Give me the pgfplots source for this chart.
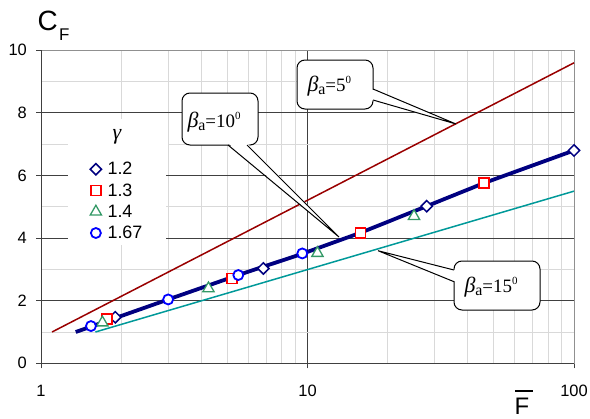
\documentclass[border=0pt]{standalone}
\usepackage{fontspec}
\setmainfont{Liberation Serif}
\setsansfont{Liberation Sans}
\usepackage{pgfplots}
\pgfplotsset{compat=1.18}

\definecolor{lineRed}{RGB}{153,0,0}
\definecolor{lineTeal}{RGB}{0,153,153}
\definecolor{lineNavy}{RGB}{0,0,128}
\definecolor{mkRed}{RGB}{255,0,0}
\definecolor{mkGreen}{RGB}{51,153,102}
\definecolor{mkBlue}{RGB}{0,0,255}
\definecolor{gridMajor}{RGB}{64,64,64}
\definecolor{gridMinor}{RGB}{217,217,217}
\definecolor{frameGray}{RGB}{144,144,144}

% label of a callout: beta_a = <angle>^0
\newcommand{\betaa}[1]{{\fontsize{22}{22}\selectfont\itshape β}%
  \raisebox{-3bp}{\fontsize{16}{16}\selectfont a}%
  {\fontsize{19}{19}\selectfont =#1}%
  \raisebox{8bp}{\fontsize{11}{11}\selectfont 0}}

\begin{document}
\begin{tikzpicture}
\useasboundingbox (0,0) rectangle (590bp,-419bp);

\begin{axis}[
  at={(41bp,-363.3bp)}, anchor=south west,
  scale only axis, width=533bp, height=313bp,
  xmode=log, xmin=1, xmax=100, ymin=0, ymax=10,
  xtick={1,10,100}, xticklabels={1,10,100},
  ytick={0,2,4,6,8,10}, yticklabels={0,2,4,6,8,10},
  minor ytick={1,3,5,7,9},
  minor xtick={2,3,4,5,6,7,8,9,20,30,40,50,60,70,80,90},
  grid=both,
  major grid style={gridMajor, line width=1bp},
  minor grid style={gridMinor, line width=1bp},
  tick pos=left, tick align=outside,
  major tick length=5bp, minor tick length=0pt,
  tick style={gridMajor, line width=1bp},
  axis line style={frameGray, line width=1bp},
  xticklabel style={font=\sffamily\fontsize{16.5}{16.5}\selectfont, anchor=north, inner sep=0pt, yshift=-17bp},
  yticklabel style={font=\sffamily\fontsize{16.5}{16.5}\selectfont, anchor=east, inner sep=0pt, xshift=-9bp},
  clip=false,
  legend style={at={(0.0507,0.659)}, anchor=north west, draw=none, fill=white,
    font=\sffamily\fontsize{18}{18}\selectfont,
    inner xsep=22bp, inner ysep=3bp, row sep=3.3bp,
    nodes={inner sep=2bp},
    /tikz/every odd column/.append style={column sep=4bp}},
  legend cell align=left,
]
% reference lines for the three cone angles
\addplot[lineRed, line width=1.5bp, forget plot] coordinates {(1.1,1.0) (100,9.6)};
\addplot[lineTeal, line width=1.5bp, forget plot] coordinates {(1.6,1.0) (100,5.5)};
% beta_a = 10 deg curve
\addplot[lineNavy, line width=3.8bp, forget plot] coordinates {
  (1.35,1.0) (3.0,2.04) (5.5,2.82) (9.56,3.50) (15.8,4.17) (28,5.02) (46,5.76) (100,6.8)};

\addplot[lineNavy, only marks, mark=square*, mark size=4bp,
  mark options={fill=white, line width=1.5bp, rotate=45}]
  coordinates {(1.90,1.47) (6.83,3.03) (28,5.02) (100,6.8)};
\addlegendentry{1.2}
\addplot[mkRed, only marks, mark=square*, mark size=5bp,
  mark options={fill=white, line width=1.6bp}]
  coordinates {(1.77,1.41) (5.2,2.71) (15.8,4.17) (46,5.76)};
\addlegendentry{1.3}
\addplot[mkGreen, only marks, mark=triangle*, mark size=6.5bp,
  mark options={fill=white, line width=1.3bp}]
  coordinates {(1.70,1.30) (4.25,2.39) (10.9,3.52) (25.1,4.70)};
\addlegendentry{1.4}
\addplot[mkBlue, only marks, mark=*, mark size=5bp,
  mark options={fill=white, line width=1.8bp}]
  coordinates {(1.54,1.19) (3.0,2.04) (5.5,2.82) (9.56,3.51)};
\addlegendentry{1.67}

% darker left and bottom axis lines
\draw[gridMajor, line width=1bp] (rel axis cs:0,1) -- (rel axis cs:0,0) -- (rel axis cs:1,0);
\end{axis}

\begin{scope}[x=1bp, y=-1bp, line width=1bp]
  % legend heading (gamma)
  \fill[white] (68,119) rectangle (168,158);
  \node[inner sep=0pt, font=\rmfamily\itshape\fontsize{22}{22}\selectfont] at (117,137) {γ};

  % callouts
  % beta_a = 10
  \draw[fill=white, rounded corners=8bp] (182,93) rectangle (258,145);
  \fill[white] (228,143) -- (339,237) -- (247,143) -- cycle;
  \draw (228,145) -- (339,237) -- (247,145);
  \node[anchor=base west, inner sep=0pt] at (187,127.3) {\betaa{10}};
  % beta_a = 5
  \draw[fill=white, rounded corners=8bp] (297,60) rectangle (373,109);
  \fill[white] (371,89) -- (456,124) -- (371,100) -- cycle;
  \draw (373,89) -- (456,124) -- (373,100);
  \node[anchor=base west, inner sep=0pt] at (307,91.7) {\betaa{5}};
  % beta_a = 15
  \draw[fill=white, rounded corners=8bp] (454,261) rectangle (540,310);
  \fill[white] (456,270) -- (378,250.7) -- (456,281.7) -- cycle;
  \draw (454,270) -- (378,250.7) -- (454,281.7);
  \node[anchor=base west, inner sep=0pt] at (464,292) {\betaa{15}};

  % axis titles
  \node[anchor=base west, inner sep=0pt, font=\sffamily\fontsize{28}{28}\selectfont] at (37,30.7) {C};
  \node[anchor=base west, inner sep=0pt, font=\sffamily\fontsize{17}{17}\selectfont] at (58.5,40.7) {F};
  \node[anchor=base west, inner sep=0pt, font=\sffamily\fontsize{24}{24}\selectfont] at (514,414.5) {F};
  \draw[line width=2bp] (515,391) -- (532.5,391);
\end{scope}
\end{tikzpicture}
\end{document}
